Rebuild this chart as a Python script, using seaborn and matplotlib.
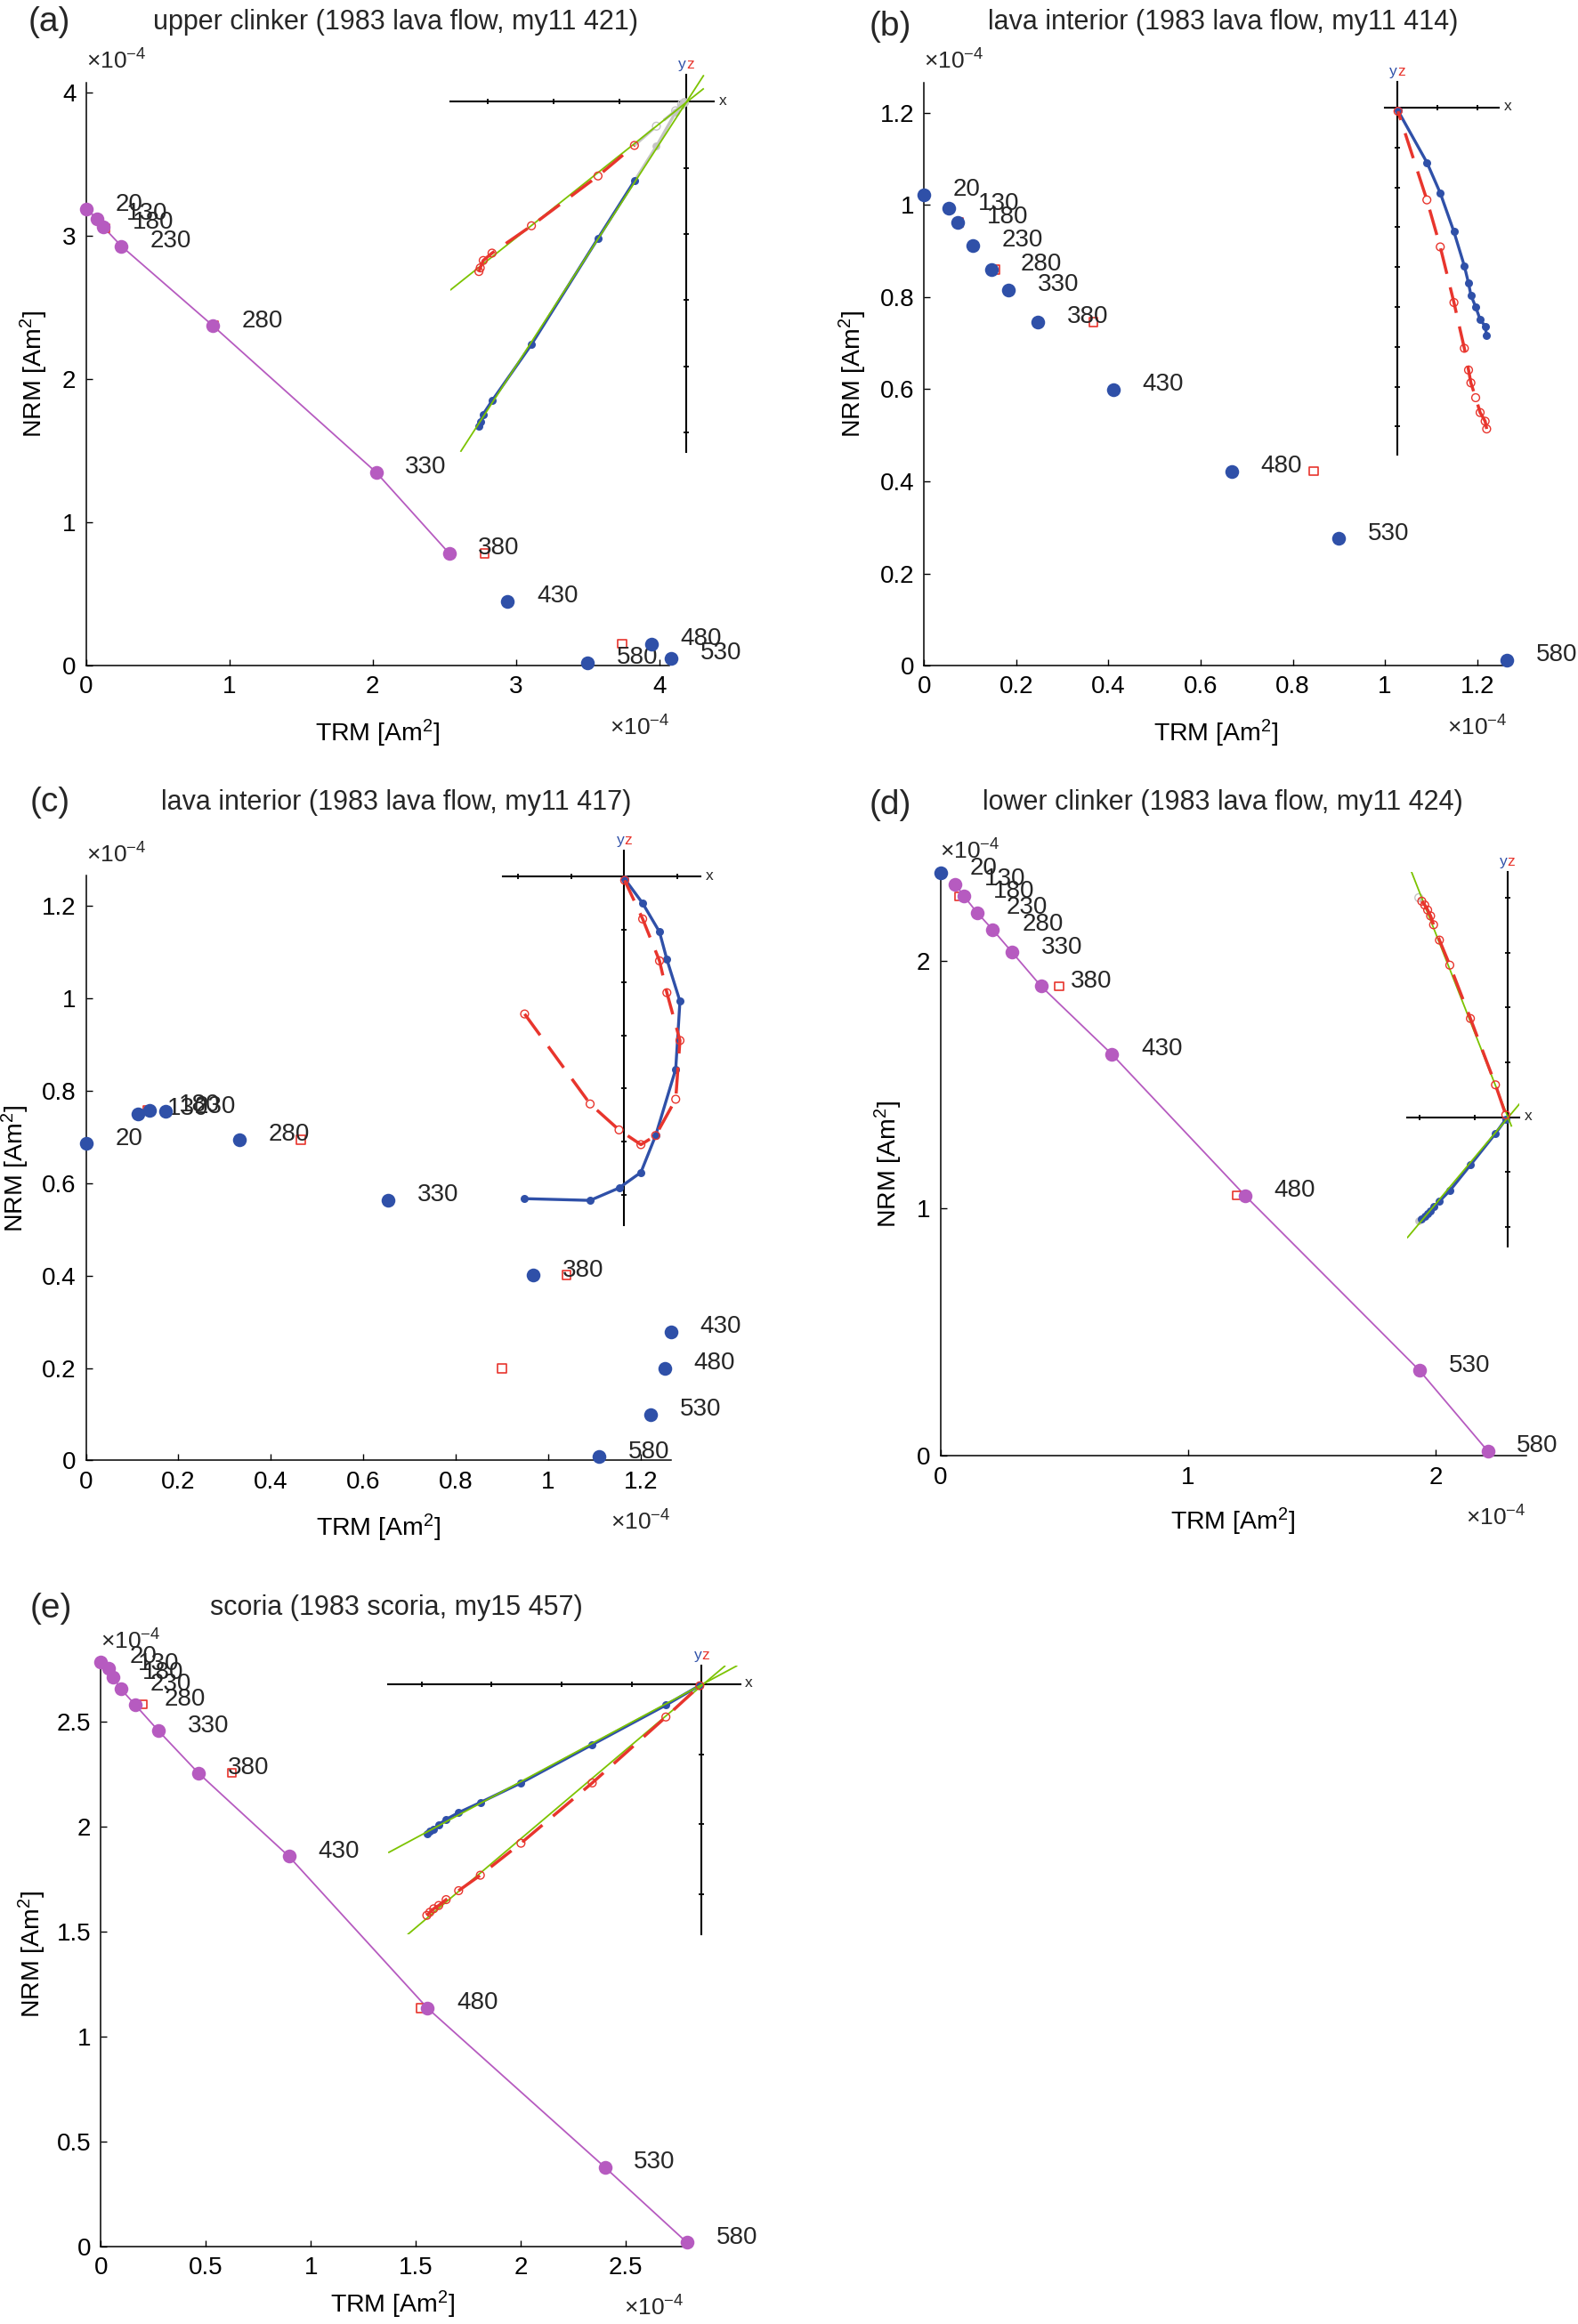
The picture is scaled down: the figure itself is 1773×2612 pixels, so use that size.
import numpy as np
import pandas as pd
import matplotlib
matplotlib.use("Agg")
import matplotlib.pyplot as plt
from matplotlib.ticker import FuncFormatter
import seaborn as sns

sns.set_theme(style="white")
plt.rcParams["font.family"] = ["Liberation Sans", "DejaVu Sans"]
plt.rcParams["mathtext.fontset"] = "custom"
plt.rcParams["mathtext.rm"] = "Liberation Sans"
plt.rcParams["mathtext.it"] = "Liberation Sans:italic"
plt.rcParams["mathtext.bf"] = "Liberation Sans:bold"
plt.rcParams["lines.solid_capstyle"] = "butt"
plt.rcParams["lines.dash_capstyle"] = "butt"

# ---------------- data (main axes in units of 1e-4 Am^2) ----------------
temps = [20, 130, 180, 230, 280, 330, 380, 430, 480, 530, 580]

# (a) upper clinker
a_trm = [0.0, 0.08, 0.122, 0.247, 0.885, 2.024, 2.533, 2.941, 3.944, 4.08, 3.498]
a_nrm = [3.183, 3.12, 3.06, 2.927, 2.372, 1.349, 0.784, 0.449, 0.153, 0.053, 0.02]
a_fit = [1, 1, 1, 1, 1, 1, 1, 0, 0, 0, 0]
a_chk_trm = [0.132, 0.892, 2.78, 3.739]
a_chk_nrm = [3.053, 2.372, 0.784, 0.153]
a_zx = [-3.130, -3.110, -3.065, -2.932, -2.336, -1.330, -0.780, -0.448, -0.157, -0.067, -0.022]
a_zy = [-4.910, -4.830, -4.722, -4.520, -3.668, -2.063, -1.197, -0.673, -0.157, -0.045, -0.013]
a_zz = [-2.565, -2.511, -2.399, -2.287, -1.874, -1.121, -0.659, -0.368, -0.135, -0.036, -0.009]
a_fity_x = [-3.408, 0.269]
a_fity = [-5.291, 0.404]
a_fitz_x = [-3.565, 0.269]
a_fitz = [-2.848, 0.202]

# (b) lava interior 414
b_trm = [0.0, 0.0535, 0.0739, 0.106, 0.1467, 0.184, 0.247, 0.411, 0.667, 0.900, 1.264]
b_nrm = [1.022, 0.992, 0.962, 0.912, 0.860, 0.816, 0.746, 0.599, 0.422, 0.276, 0.012]
b_fit = [0] * 11
b_chk_trm = [0.076, 0.154, 0.367, 0.845]
b_chk_nrm = [0.962, 0.860, 0.746, 0.422]
b_zx = [2.239, 2.201, 2.075, 1.963, 1.843, 1.784, 1.679, 1.418, 1.075, 0.739, 0.015]
b_zy = [-5.724, -5.485, -5.313, -5.0, -4.701, -4.403, -3.970, -3.112, -2.142, -1.373, -0.075]
b_zz = [-8.06, -7.866, -7.649, -7.276, -6.903, -6.582, -6.037, -4.888, -3.493, -2.313, -0.09]

# (c) lava interior 417
c_trm = [0.0, 0.1124, 0.1373, 0.173, 0.331, 0.653, 0.967, 1.266, 1.252, 1.221, 1.110]
c_nrm = [0.686, 0.750, 0.758, 0.755, 0.694, 0.563, 0.401, 0.278, 0.199, 0.0997, 0.0076]
c_fit = [0] * 11
c_chk_trm = [0.134, 0.465, 1.04, 0.90]
c_chk_nrm = [0.758, 0.694, 0.401, 0.199]
c_zx = [-1.877, -0.641, -0.095, 0.318, 0.596, 0.975, 1.055, 0.808, 0.669, 0.351, 0.011]
c_zy = [-6.078, -6.111, -5.877, -5.582, -4.886, -3.632, -2.350, -1.560, -1.042, -0.501, -0.039]
c_zz = [-2.591, -4.290, -4.780, -5.058, -4.886, -4.201, -3.092, -2.189, -1.588, -0.797, -0.067]

# (d) lower clinker
d_trm = [0.0, 0.06, 0.096, 0.148, 0.212, 0.29, 0.407, 0.693, 1.23, 1.934, 2.21]
d_nrm = [2.354, 2.31, 2.26, 2.195, 2.125, 2.034, 1.897, 1.622, 1.052, 0.346, 0.020]
d_fit = [0, 1, 1, 1, 1, 1, 1, 1, 1, 1, 1]
d_chk_trm = [0.076, 0.479, 1.196]
d_chk_nrm = [2.26, 1.897, 1.052]
d_zx = [-1.613, -1.559, -1.505, -1.452, -1.398, -1.344, -1.237, -1.048, -0.672, -0.215, -0.027]
d_zy = [-1.892, -1.849, -1.812, -1.758, -1.704, -1.634, -1.532, -1.339, -0.871, -0.296, -0.038]
d_zz = [4.005, 3.941, 3.871, 3.780, 3.672, 3.511, 3.231, 2.774, 1.801, 0.591, 0.043]
d_fity_x = [-1.828, 0.226]
d_fity = [-2.204, 0.247]
d_fitz_x = [-1.747, 0.08]
d_fitz = [4.478, -0.172]

# (e) scoria
e_trm = [0.0, 0.036, 0.06, 0.095, 0.162, 0.274, 0.464, 0.895, 1.555, 2.40, 2.79]
e_nrm = [2.783, 2.751, 2.709, 2.654, 2.58, 2.455, 2.254, 1.857, 1.134, 0.376, 0.018]
e_fit = [1] * 11
e_chk_trm = [0.2, 0.624, 1.524]
e_chk_nrm = [2.58, 2.254, 1.134]
e_zx = [-3.928, -3.885, -3.830, -3.758, -3.652, -3.473, -3.163, -2.582, -1.563, -0.510, -0.025]
e_zy = [-2.136, -2.100, -2.070, -2.004, -1.932, -1.834, -1.690, -1.410, -0.862, -0.297, -0.015]
e_zz = [-3.304, -3.260, -3.210, -3.163, -3.079, -2.951, -2.730, -2.272, -1.410, -0.467, -0.020]
e_fity_x = [-4.480, 0.510]
e_fity = [-2.408, 0.268]
e_fitz_x = [-4.204, 0.340]
e_fitz = [-3.580, 0.268]

titles = {
    "a": "upper clinker (1983 lava flow, my11 421)",
    "b": "lava interior (1983 lava flow, my11 414)",
    "c": "lava interior (1983 lava flow, my11 417)",
    "d": "lower clinker (1983 lava flow, my11 424)",
    "e": "scoria (1983 scoria, my15 457)",
}

# ---------------- styles / layout ----------------
PURPLE = "#B65BC0"
BLUE = "#2F50A8"
RED = "#E8352D"
GREEN = "#7CC300"
GRAY = "#C4C4C4"

W, H, DPI = 1773, 2612, 100

layout = {
    "a": dict(x0=96.6, y0=748.2, unit=161.1, xmax=4.07, ymax=4.07,
              xt=[0, 1, 2, 3, 4], yt=[0, 1, 2, 3, 4], ylab=-0.089, xlab=-76,
              io=(4.185, 3.934), iu=0.4615, ixr=(-3.565, 0.426), iyr=(-5.29, 0.404),
              ixt=[-3, -2, -1], iyt=[-1, -2, -3, -4, -5],
              title=(445, 25), lab=(32, 25)),
    "b": dict(x0=1038.2, y0=748.2, unit=517.9, xmax=1.266, ymax=1.265,
              xt=[0, 0.2, 0.4, 0.6, 0.8, 1, 1.2], yt=[0, 0.2, 0.4, 0.6, 0.8, 1, 1.2], ylab=-0.122,
              xlab=-76,
              io=(1.027, 1.211), iu=0.0865, ixr=(-0.306, 2.552), iyr=(-8.709, 0.642),
              ixt=[1, 2], iyt=[-1, -2, -3, -4, -5, -6, -7, -8],
              title=(1374, 25), lab=(977, 30)),
    "c": dict(x0=96.6, y0=1641.4, unit=519.4, xmax=1.265, ymax=1.265,
              xt=[0, 0.2, 0.4, 0.6, 0.8, 1, 1.2], yt=[0, 0.2, 0.4, 0.6, 0.8, 1, 1.2], ylab=-0.12,
              xlab=-76,
              io=(1.164, 1.263), iu=0.1146, ixr=(-2.284, 1.448), iyr=(-6.585, 0.49),
              ixt=[-2, -1, 1], iyt=[-1, -2, -3, -4, -5, -6],
              title=(445, 902), lab=(34, 902)),
    "d": dict(x0=1056.5, y0=1636.4, unit=278.3, xmax=2.365, ymax=2.358,
              xt=[0, 1, 2], yt=[0, 1, 2], ylab=-0.089, xlab=-74,
              io=(2.289, 1.368), iu=0.2214, ixr=(-1.828, 0.226), iyr=(-2.366, 4.468),
              ixt=[-1.6, -0.59], iyt=[4, 3, 2, 1, -1, -2],
              title=(1374, 902), lab=(977, 905)),
    "e": dict(x0=113.3, y0=2524.6, unit=236.0, xmax=2.775, ymax=2.78,
              xt=[0, 0.5, 1, 1.5, 2, 2.5], yt=[0, 0.5, 1, 1.5, 2, 2.5], ylab=-0.118, xlab=-66,
              io=(2.86, 2.676), iu=0.333, ixr=(-4.48, 0.552), iyr=(-3.58, 0.268),
              ixt=[-4, -3, -2, -1], iyt=[-1, -2, -3],
              title=(445, 1807), lab=(34, 1808)),
}

data = {
    "a": (a_trm, a_nrm, a_fit, a_chk_trm, a_chk_nrm, a_zx, a_zy, a_zz, (a_fity_x, a_fity), (a_fitz_x, a_fitz)),
    "b": (b_trm, b_nrm, b_fit, b_chk_trm, b_chk_nrm, b_zx, b_zy, b_zz, None, None),
    "c": (c_trm, c_nrm, c_fit, c_chk_trm, c_chk_nrm, c_zx, c_zy, c_zz, None, None),
    "d": (d_trm, d_nrm, d_fit, d_chk_trm, d_chk_nrm, d_zx, d_zy, d_zz, (d_fity_x, d_fity), (d_fitz_x, d_fitz)),
    "e": (e_trm, e_nrm, e_fit, e_chk_trm, e_chk_nrm, e_zx, e_zy, e_zz, (e_fity_x, e_fity), (e_fitz_x, e_fitz)),
}

fig = plt.figure(figsize=(W / DPI, H / DPI), dpi=DPI)
fig.patch.set_facecolor("white")

fmt = FuncFormatter(lambda v, p: f"{v:g}")
RED_DASH = (0, (8.5, 4.5))
GRAY_DASH = (0, (8.5, 4.5))

FS_TICK = 20
FS_LAB = 20.5
FS_ANN = 20
FS_TITLE = 22
FS_PANEL = 28
FS_EXP = 19


def draw_inset(ax, L, zx, zy, zz, gray_mask, fity, fitz):
    ox, oy = L["io"]
    u = L["iu"]
    xr, yr = L["ixr"], L["iyr"]
    ins = ax.inset_axes([ox + xr[0] * u, oy + yr[0] * u, (xr[1] - xr[0]) * u, (yr[1] - yr[0]) * u],
                        transform=ax.transData)
    ins.patch.set_alpha(0)
    df = pd.DataFrame({"x": zx, "y": zy, "z": zz, "gray": gray_mask})
    n = len(df)
    col = df[~df["gray"]]
    gi = set()
    for i in range(n):
        if gray_mask[i]:
            gi.update(j for j in (i - 1, i, i + 1) if 0 <= j < n)
    gseg = df.loc[sorted(gi)]
    gpts = df[df["gray"]]

    # horizontal projection (blue)
    sns.lineplot(data=col, x="x", y="y", sort=False, estimator=None, color=BLUE, lw=2.4, ax=ins, zorder=2)
    if len(gseg):
        sns.lineplot(data=gseg, x="x", y="y", sort=False, estimator=None, color=GRAY, lw=2.4, ax=ins, zorder=2)
        sns.lineplot(data=gseg, x="x", y="z", sort=False, estimator=None, color=GRAY, lw=2.4,
                     linestyle=GRAY_DASH, ax=ins, zorder=2)
        sns.scatterplot(data=gpts, x="x", y="y", color=GRAY, s=40, linewidth=0, ax=ins, zorder=2.5, clip_on=False)
        sns.scatterplot(data=gpts, x="x", y="z", color=GRAY, facecolor="none", edgecolor=GRAY, s=40,
                        linewidth=1.0, ax=ins, zorder=2.5, clip_on=False)
    sns.scatterplot(data=col, x="x", y="y", color=BLUE, s=42, linewidth=0, ax=ins, zorder=2.6, clip_on=False)
    # green fit lines
    if fity is not None:
        sns.lineplot(x=fity[0], y=fity[1], sort=False, estimator=None, color=GREEN, lw=1.3, ax=ins, zorder=3)
    if fitz is not None:
        sns.lineplot(x=fitz[0], y=fitz[1], sort=False, estimator=None, color=GREEN, lw=1.3, ax=ins, zorder=3)
    # vertical projection (red dashed, open circles)
    sns.lineplot(data=col, x="x", y="z", sort=False, estimator=None, color=RED, lw=2.5,
                 linestyle=RED_DASH, ax=ins, zorder=4)
    sns.scatterplot(data=col, x="x", y="z", color=RED, facecolor="none", edgecolor=RED, s=40,
                    linewidth=1.0, ax=ins, zorder=4.5, clip_on=False)

    ins.set_xlim(*xr)
    ins.set_ylim(*yr)
    ins.set_xlabel("")
    ins.set_ylabel("")
    for s in ("top", "right"):
        ins.spines[s].set_visible(False)
    for s in ("left", "bottom"):
        ins.spines[s].set_position(("data", 0))
        ins.spines[s].set_color("black")
        ins.spines[s].set_linewidth(1.5)
        ins.spines[s].set_zorder(1)
    ins.set_xticks(L["ixt"])
    ins.set_yticks(L["iyt"])
    ins.tick_params(direction="inout", length=4.5, width=1.3, color="black",
                    bottom=True, left=True, labelbottom=False, labelleft=False)
    ins.grid(False)
    ins.annotate("x", xy=(xr[1], 0), xytext=(4, 1), textcoords="offset points",
                 ha="left", va="center", fontsize=12.5, annotation_clip=False)
    ins.annotate("y", xy=(0, yr[1]), xytext=(0, 3), textcoords="offset points",
                 ha="right", va="bottom", fontsize=12.5, color=BLUE, annotation_clip=False)
    ins.annotate("z", xy=(0, yr[1]), xytext=(0, 3), textcoords="offset points",
                 ha="left", va="bottom", fontsize=12.5, color=RED, annotation_clip=False)
    return ins


for key in ["a", "b", "c", "d", "e"]:
    L = layout[key]
    trm, nrm, fit, chk_trm, chk_nrm, zx, zy, zz, fity, fitz = data[key]
    wpx, hpx = L["xmax"] * L["unit"], L["ymax"] * L["unit"]
    ax = fig.add_axes([L["x0"] / W, 1 - L["y0"] / H, wpx / W, hpx / H])
    ax.patch.set_alpha(0)

    df = pd.DataFrame({"trm": trm, "nrm": nrm, "fit": fit, "temp": temps})
    fitdf = df[df["fit"] == 1]
    other = df[df["fit"] == 0]
    if len(fitdf):
        sns.lineplot(data=fitdf, x="trm", y="nrm", sort=False, estimator=None, color=PURPLE,
                     lw=1.3, ax=ax, zorder=2)
    chk = pd.DataFrame({"trm": chk_trm, "nrm": chk_nrm})
    sns.scatterplot(data=chk, x="trm", y="nrm", marker="s", s=46, color=RED, facecolor="none",
                    edgecolor=RED, linewidth=1.2, ax=ax, zorder=3, clip_on=False)
    if len(other):
        sns.scatterplot(data=other, x="trm", y="nrm", color=BLUE, s=125, linewidth=0, ax=ax,
                        zorder=4, clip_on=False)
    if len(fitdf):
        sns.scatterplot(data=fitdf, x="trm", y="nrm", color=PURPLE, s=125, linewidth=0, ax=ax,
                        zorder=4, clip_on=False)
    for t, x, y in zip(temps, trm, nrm):
        ax.annotate(str(t), xy=(x, y), xytext=(23.5, 4), textcoords="offset points", ha="left",
                    va="center", fontsize=FS_ANN, zorder=3.5, annotation_clip=False)

    ax.set_xlim(0, L["xmax"])
    ax.set_ylim(0, L["ymax"])
    ax.set_xticks(L["xt"])
    ax.set_yticks(L["yt"])
    ax.xaxis.set_major_formatter(fmt)
    ax.yaxis.set_major_formatter(fmt)
    ax.tick_params(direction="in", length=5, width=1, color="black", labelsize=FS_TICK, pad=8,
                   bottom=True, left=True, top=False, right=False, labelcolor="black")
    for s in ("top", "right"):
        ax.spines[s].set_visible(False)
    for s in ("left", "bottom"):
        ax.spines[s].set_color("black")
        ax.spines[s].set_linewidth(1.1)
    ax.grid(False)
    ax.set_xlabel("TRM [Am$^2$]", fontsize=FS_LAB, va="center", color="black")
    ax.set_ylabel("NRM [Am$^2$]", fontsize=FS_LAB, va="center", color="black")
    ax.xaxis.set_label_coords(0.5, L["xlab"] / hpx)
    ax.yaxis.set_label_coords(L["ylab"], 0.5)
    # exponent labels
    ax.annotate(r"$\times$10$^{-4}$", xy=(0, 1), xycoords="axes fraction", xytext=(0, 17),
                textcoords="offset points", ha="left", va="center", fontsize=FS_EXP)
    ax.annotate(r"$\times$10$^{-4}$", xy=(1, 0), xycoords="axes fraction", xytext=(0, -50),
                textcoords="offset points", ha="right", va="center", fontsize=FS_EXP)

    gray_mask = [f == 0 for f in fit] if any(fit) else [False] * len(fit)
    draw_inset(ax, L, zx, zy, zz, gray_mask, fity, fitz)

    fig.text(L["title"][0] / W, 1 - L["title"][1] / H, titles[key], ha="center", va="center",
             fontsize=FS_TITLE)
    fig.text(L["lab"][0] / W, 1 - L["lab"][1] / H, f"({key})", ha="left", va="center", fontsize=FS_PANEL)

fig.savefig("out.png", dpi=DPI, facecolor="white")
